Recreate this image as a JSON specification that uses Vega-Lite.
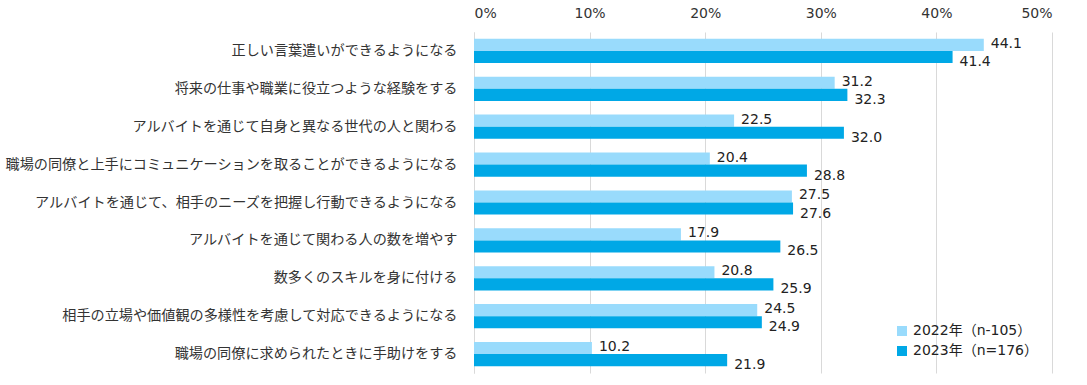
{
  "$schema": "https://vega.github.io/schema/vega-lite/v6.json",
  "autosize": {"type": "none"},
  "width": 578,
  "height": 341,
  "padding": {"left": 474, "top": 32, "right": 35, "bottom": 12},
  "background": "white",
  "config": {"view": {"stroke": null}},
  "data": {"values": [
    {"item": "正しい言葉遣いができるようになる", "series": "2022年（n-105）", "value": 44.1},
    {"item": "正しい言葉遣いができるようになる", "series": "2023年（n=176）", "value": 41.4},
    {"item": "将来の仕事や職業に役立つような経験をする", "series": "2022年（n-105）", "value": 31.2},
    {"item": "将来の仕事や職業に役立つような経験をする", "series": "2023年（n=176）", "value": 32.3},
    {"item": "アルバイトを通じて自身と異なる世代の人と関わる", "series": "2022年（n-105）", "value": 22.5},
    {"item": "アルバイトを通じて自身と異なる世代の人と関わる", "series": "2023年（n=176）", "value": 32.0},
    {"item": "職場の同僚と上手にコミュニケーションを取ることができるようになる", "series": "2022年（n-105）", "value": 20.4},
    {"item": "職場の同僚と上手にコミュニケーションを取ることができるようになる", "series": "2023年（n=176）", "value": 28.8},
    {"item": "アルバイトを通じて、相手のニーズを把握し行動できるようになる", "series": "2022年（n-105）", "value": 27.5},
    {"item": "アルバイトを通じて、相手のニーズを把握し行動できるようになる", "series": "2023年（n=176）", "value": 27.6},
    {"item": "アルバイトを通じて関わる人の数を増やす", "series": "2022年（n-105）", "value": 17.9},
    {"item": "アルバイトを通じて関わる人の数を増やす", "series": "2023年（n=176）", "value": 26.5},
    {"item": "数多くのスキルを身に付ける", "series": "2022年（n-105）", "value": 20.8},
    {"item": "数多くのスキルを身に付ける", "series": "2023年（n=176）", "value": 25.9},
    {"item": "相手の立場や価値観の多様性を考慮して対応できるようになる", "series": "2022年（n-105）", "value": 24.5},
    {"item": "相手の立場や価値観の多様性を考慮して対応できるようになる", "series": "2023年（n=176）", "value": 24.9},
    {"item": "職場の同僚に求められたときに手助けをする", "series": "2022年（n-105）", "value": 10.2},
    {"item": "職場の同僚に求められたときに手助けをする", "series": "2023年（n=176）", "value": 21.9}
  ]},
  "encoding": {
    "y": {
      "field": "item", "type": "nominal", "sort": null,
      "scale": {"paddingInner": 0.36, "paddingOuter": 0.18},
      "axis": {
        "title": null, "ticks": false, "domain": true, "domainColor": "#d9d9d9",
        "labelFontSize": 14.15, "labelFont": "Noto Sans CJK JP", "labelColor": "#333333",
        "labelPadding": 17, "labelLimit": 600
      }
    },
    "x": {
      "field": "value", "type": "quantitative",
      "scale": {"domain": [0, 50], "nice": false},
      "axis": {
        "orient": "top", "title": null, "values": [0, 10, 20, 30, 40, 50],
        "labelExpr": "datum.value + '%'", "domain": false, "ticks": false,
        "grid": true, "gridColor": "#d9d9d9", "labelFontSize": 14,
        "labelFont": "DejaVu Sans, Noto Sans CJK JP", "labelColor": "#333333", "labelPadding": 12
      }
    },
    "yOffset": {"field": "series", "type": "nominal"}
  },
  "layer": [
    {
      "mark": {"type": "bar"},
      "encoding": {
        "color": {
          "field": "series", "type": "nominal",
          "scale": {"domain": ["2022年（n-105）", "2023年（n=176）"], "range": ["#99dbfc", "#00a8e6"]},
          "legend": {
            "orient": "none", "legendX": 421, "legendY": 292, "title": null,
            "symbolType": "square", "symbolSize": 100, "symbolStrokeWidth": 0,
            "labelFontSize": 14, "labelFont": "DejaVu Sans, Noto Sans CJK JP", "labelColor": "#222222",
            "rowPadding": 6, "padding": 0, "labelOffset": 4
          }
        }
      }
    },
    {
      "transform": [{"filter": "datum.series == '2022年（n-105）'"}],
      "mark": {"type": "text", "align": "left", "baseline": "middle", "dx": 7, "dy": -1, "fontSize": 14, "font": "DejaVu Sans", "color": "#222222"},
      "encoding": {"text": {"field": "value", "type": "quantitative", "format": ".1f"}}
    },
    {
      "transform": [{"filter": "datum.series == '2023年（n=176）'"}],
      "mark": {"type": "text", "align": "left", "baseline": "middle", "dx": 7, "dy": 5, "fontSize": 14, "font": "DejaVu Sans", "color": "#222222"},
      "encoding": {"text": {"field": "value", "type": "quantitative", "format": ".1f"}}
    }
  ]
}
